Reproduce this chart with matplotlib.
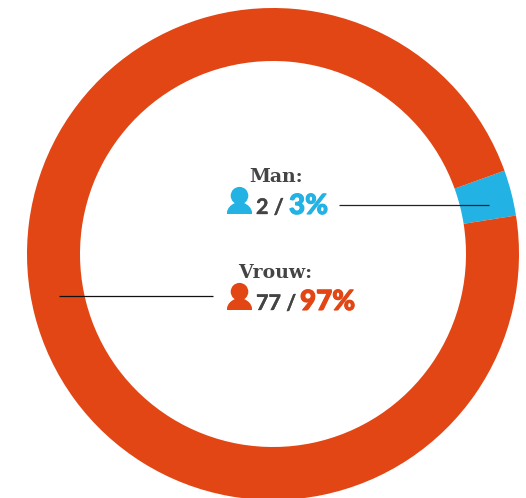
import matplotlib
matplotlib.use("Agg")
import matplotlib.pyplot as plt
import matplotlib.patheffects as pe
from matplotlib.patches import Circle, PathPatch
from matplotlib.path import Path

categories = ["Man", "Vrouw"]
percentages = [3, 97]
counts = [2, 77]
colors = ["#22b2e3", "#e24614"]
DARK = "#444444"


def person(ax, x, y, color):
    # x, y = bottom left of the icon, in pixels
    ax.add_patch(Circle((x + 12.5, y - 18.3), 8.8, fc=color, ec="none"))
    verts = [(x, y), (x + 25, y), (x + 25, y - 2), (x + 24, y - 8), (x + 17, y - 11),
             (x + 8, y - 11), (x + 1, y - 8), (x, y - 2), (x, y)]
    codes = [Path.MOVETO, Path.LINETO, Path.LINETO, Path.CURVE3, Path.CURVE3,
             Path.LINETO, Path.CURVE3, Path.CURVE3, Path.CLOSEPOLY]
    ax.add_patch(PathPatch(Path(verts, codes), fc=color, ec="none"))


fig = plt.figure(figsize=(5.26, 4.98), dpi=100)
ax = fig.add_axes([0, 0, 1, 1])
ax.pie(percentages, colors=colors, startangle=-9, counterclock=False,
       center=(273, 254), radius=246, frame=True,
       wedgeprops={"width": 53, "linewidth": 0})
ax.set_xlim(0, 526)
ax.set_ylim(498, 0)
ax.axis("off")

ax.plot([339, 489], [204.5, 204.5], color="#222222", lw=0.9, solid_capstyle="butt")
ax.plot([59, 213], [295.5, 295.5], color="#111111", lw=0.9, solid_capstyle="butt")

person(ax, 227, 214, colors[0])
person(ax, 227, 310, colors[1])

head = dict(family="DejaVu Serif", fontweight="bold", fontsize=13.6, color=DARK, va="baseline")
ax.text(249.5, 182, categories[0] + ":", **head)
ax.text(238, 278, categories[1] + ":", **head)

num = dict(family="Lato", fontweight="bold", fontsize=15.5, color=DARK, va="baseline",
           path_effects=[pe.withStroke(linewidth=0.25, foreground=DARK)])
ax.text(256, 214, f"{counts[0]} /", **num)
ax.text(256, 310, f"{counts[1]} /", **num)

pct = dict(family="Lato", fontweight="black", fontsize=20, va="baseline")
for x, y, p, c in [(289, 214, percentages[0], colors[0]), (300, 310, percentages[1], colors[1])]:
    ax.text(x, y, f"{p}%", color=c, path_effects=[pe.withStroke(linewidth=0.8, foreground=c)], **pct)

fig.savefig("out.png", dpi=100)
